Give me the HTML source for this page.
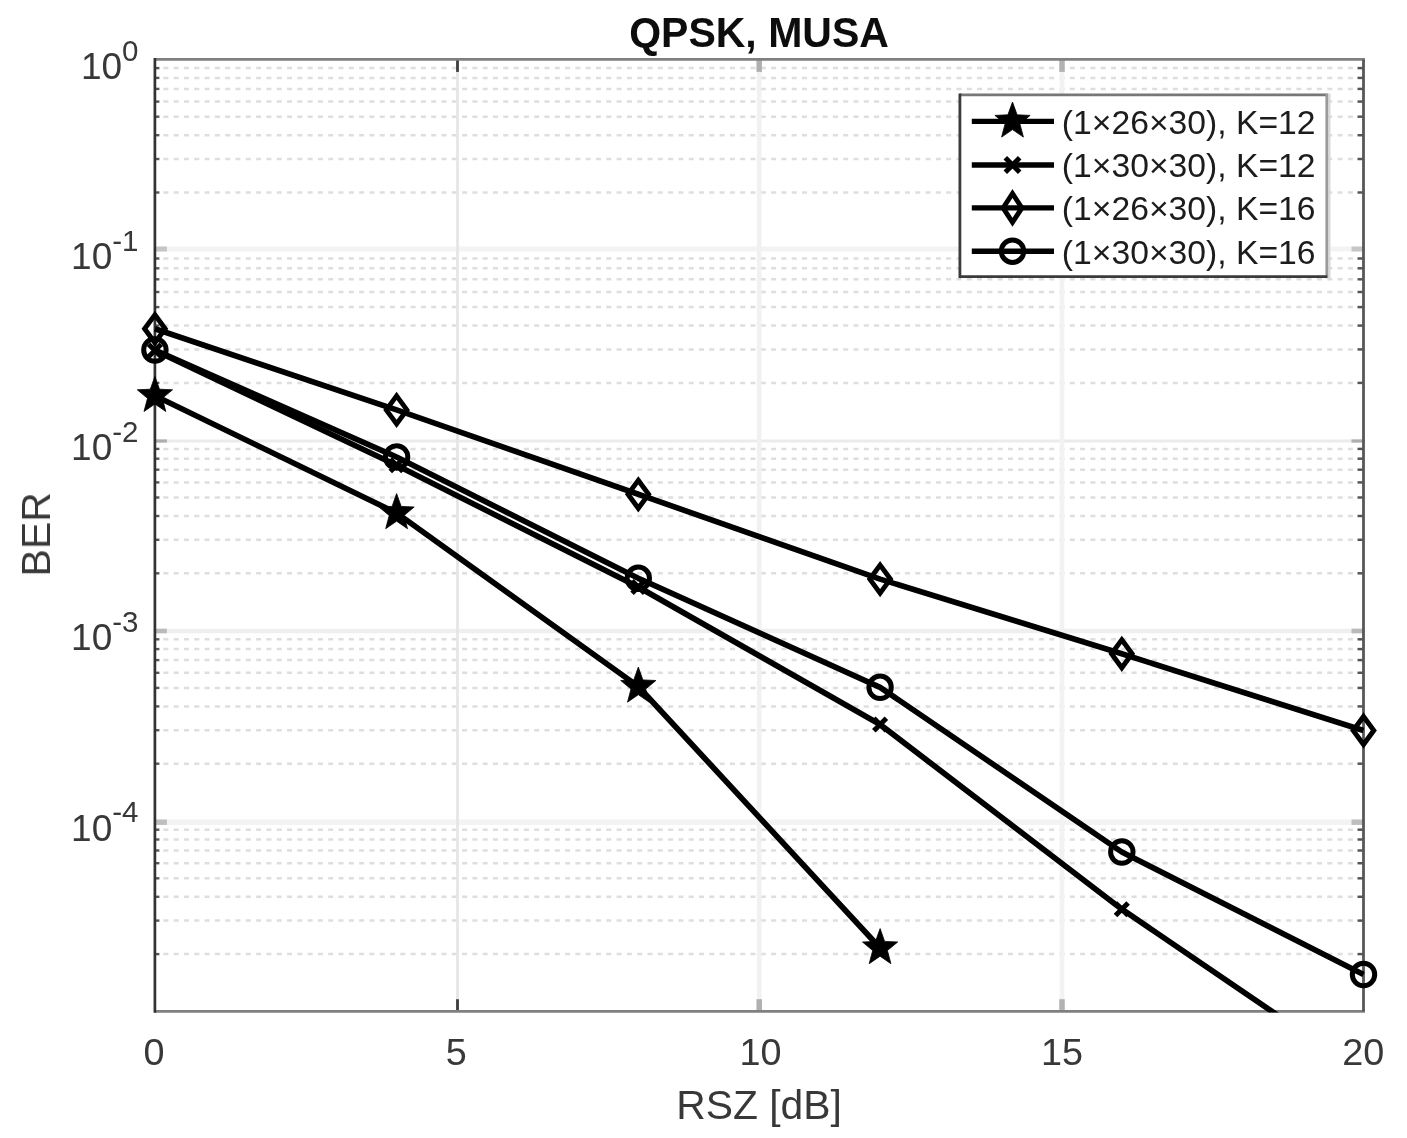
<!DOCTYPE html>
<html lang="en"><head><meta charset="utf-8"><title>QPSK, MUSA</title>
<style>html,body{margin:0;padding:0;background:#fff;}body{width:1407px;height:1138px;overflow:hidden;}svg{display:block;}text{font-family:"Liberation Sans",Arial,sans-serif;fill:#383838;}</style>
</head><body>
<svg width="1407" height="1138" viewBox="0 0 1407 1138">
<rect width="1407" height="1138" fill="#fff"/>
<g id="figure" filter="url(#soft)">
<defs><filter id="soft" filterUnits="userSpaceOnUse" x="0" y="0" width="1407" height="1138"><feGaussianBlur stdDeviation="0.75"/></filter><clipPath id="ax"><rect x="124.9" y="59.4" width="1268.6" height="953.0"/></clipPath></defs>
<g id="grid-major-h">
<line x1="154.9" y1="249.0" x2="1363.5" y2="249.0" stroke="#f3f3f3" stroke-width="5.0"/>
<line x1="154.9" y1="441.0" x2="1363.5" y2="441.0" stroke="#ebebeb" stroke-width="3.2"/>
<line x1="154.9" y1="631.0" x2="1363.5" y2="631.0" stroke="#efefef" stroke-width="4.6"/>
<line x1="154.9" y1="822.2" x2="1363.5" y2="822.2" stroke="#f3f3f3" stroke-width="5.4"/>
</g>
<g id="grid-minor-h" stroke="#dedede" stroke-width="2.5" stroke-dasharray="5 5.3">
<line x1="163.4" y1="192.5" x2="1363.5" y2="192.5"/>
<line x1="163.4" y1="159.0" x2="1363.5" y2="159.0"/>
<line x1="163.4" y1="135.2" x2="1363.5" y2="135.2"/>
<line x1="163.4" y1="116.7" x2="1363.5" y2="116.7"/>
<line x1="163.4" y1="101.6" x2="1363.5" y2="101.6"/>
<line x1="163.4" y1="88.9" x2="1363.5" y2="88.9"/>
<line x1="163.4" y1="77.9" x2="1363.5" y2="77.9"/>
<line x1="163.4" y1="68.1" x2="1363.5" y2="68.1"/>
<line x1="163.4" y1="382.9" x2="1363.5" y2="382.9"/>
<line x1="163.4" y1="349.4" x2="1363.5" y2="349.4"/>
<line x1="163.4" y1="325.6" x2="1363.5" y2="325.6"/>
<line x1="163.4" y1="307.1" x2="1363.5" y2="307.1"/>
<line x1="163.4" y1="292.0" x2="1363.5" y2="292.0"/>
<line x1="163.4" y1="279.3" x2="1363.5" y2="279.3"/>
<line x1="163.4" y1="268.3" x2="1363.5" y2="268.3"/>
<line x1="163.4" y1="258.5" x2="1363.5" y2="258.5"/>
<line x1="163.4" y1="573.3" x2="1363.5" y2="573.3"/>
<line x1="163.4" y1="539.8" x2="1363.5" y2="539.8"/>
<line x1="163.4" y1="516.0" x2="1363.5" y2="516.0"/>
<line x1="163.4" y1="497.5" x2="1363.5" y2="497.5"/>
<line x1="163.4" y1="482.4" x2="1363.5" y2="482.4"/>
<line x1="163.4" y1="469.7" x2="1363.5" y2="469.7"/>
<line x1="163.4" y1="458.7" x2="1363.5" y2="458.7"/>
<line x1="163.4" y1="448.9" x2="1363.5" y2="448.9"/>
<line x1="163.4" y1="763.7" x2="1363.5" y2="763.7"/>
<line x1="163.4" y1="730.2" x2="1363.5" y2="730.2"/>
<line x1="163.4" y1="706.4" x2="1363.5" y2="706.4"/>
<line x1="163.4" y1="687.9" x2="1363.5" y2="687.9"/>
<line x1="163.4" y1="672.8" x2="1363.5" y2="672.8"/>
<line x1="163.4" y1="660.1" x2="1363.5" y2="660.1"/>
<line x1="163.4" y1="649.1" x2="1363.5" y2="649.1"/>
<line x1="163.4" y1="639.3" x2="1363.5" y2="639.3"/>
<line x1="163.4" y1="954.1" x2="1363.5" y2="954.1"/>
<line x1="163.4" y1="920.6" x2="1363.5" y2="920.6"/>
<line x1="163.4" y1="896.8" x2="1363.5" y2="896.8"/>
<line x1="163.4" y1="878.3" x2="1363.5" y2="878.3"/>
<line x1="163.4" y1="863.2" x2="1363.5" y2="863.2"/>
<line x1="163.4" y1="850.5" x2="1363.5" y2="850.5"/>
<line x1="163.4" y1="839.5" x2="1363.5" y2="839.5"/>
<line x1="163.4" y1="829.7" x2="1363.5" y2="829.7"/>
</g>
<g id="grid-major-v">
<line x1="457.5" y1="59.4" x2="457.5" y2="1011.4" stroke="#e6e6e6" stroke-width="2.8"/>
<line x1="759.2" y1="59.4" x2="759.2" y2="1011.4" stroke="#f1f1f1" stroke-width="4.6"/>
<line x1="1062.0" y1="59.4" x2="1062.0" y2="1011.4" stroke="#f2f2f2" stroke-width="4.6"/>
</g>
<g id="ticks-minor" stroke="#555" stroke-width="2.4">
<line x1="154.9" y1="192.5" x2="159.4" y2="192.5"/>
<line x1="1357.5" y1="192.5" x2="1363.5" y2="192.5"/>
<line x1="154.9" y1="159.0" x2="159.4" y2="159.0"/>
<line x1="1357.5" y1="159.0" x2="1363.5" y2="159.0"/>
<line x1="154.9" y1="135.2" x2="159.4" y2="135.2"/>
<line x1="1357.5" y1="135.2" x2="1363.5" y2="135.2"/>
<line x1="154.9" y1="116.7" x2="159.4" y2="116.7"/>
<line x1="1357.5" y1="116.7" x2="1363.5" y2="116.7"/>
<line x1="154.9" y1="101.6" x2="159.4" y2="101.6"/>
<line x1="1357.5" y1="101.6" x2="1363.5" y2="101.6"/>
<line x1="154.9" y1="88.9" x2="159.4" y2="88.9"/>
<line x1="1357.5" y1="88.9" x2="1363.5" y2="88.9"/>
<line x1="154.9" y1="77.9" x2="159.4" y2="77.9"/>
<line x1="1357.5" y1="77.9" x2="1363.5" y2="77.9"/>
<line x1="154.9" y1="68.1" x2="159.4" y2="68.1"/>
<line x1="1357.5" y1="68.1" x2="1363.5" y2="68.1"/>
<line x1="154.9" y1="382.9" x2="159.4" y2="382.9"/>
<line x1="1357.5" y1="382.9" x2="1363.5" y2="382.9"/>
<line x1="154.9" y1="349.4" x2="159.4" y2="349.4"/>
<line x1="1357.5" y1="349.4" x2="1363.5" y2="349.4"/>
<line x1="154.9" y1="325.6" x2="159.4" y2="325.6"/>
<line x1="1357.5" y1="325.6" x2="1363.5" y2="325.6"/>
<line x1="154.9" y1="307.1" x2="159.4" y2="307.1"/>
<line x1="1357.5" y1="307.1" x2="1363.5" y2="307.1"/>
<line x1="154.9" y1="292.0" x2="159.4" y2="292.0"/>
<line x1="1357.5" y1="292.0" x2="1363.5" y2="292.0"/>
<line x1="154.9" y1="279.3" x2="159.4" y2="279.3"/>
<line x1="1357.5" y1="279.3" x2="1363.5" y2="279.3"/>
<line x1="154.9" y1="268.3" x2="159.4" y2="268.3"/>
<line x1="1357.5" y1="268.3" x2="1363.5" y2="268.3"/>
<line x1="154.9" y1="258.5" x2="159.4" y2="258.5"/>
<line x1="1357.5" y1="258.5" x2="1363.5" y2="258.5"/>
<line x1="154.9" y1="573.3" x2="159.4" y2="573.3"/>
<line x1="1357.5" y1="573.3" x2="1363.5" y2="573.3"/>
<line x1="154.9" y1="539.8" x2="159.4" y2="539.8"/>
<line x1="1357.5" y1="539.8" x2="1363.5" y2="539.8"/>
<line x1="154.9" y1="516.0" x2="159.4" y2="516.0"/>
<line x1="1357.5" y1="516.0" x2="1363.5" y2="516.0"/>
<line x1="154.9" y1="497.5" x2="159.4" y2="497.5"/>
<line x1="1357.5" y1="497.5" x2="1363.5" y2="497.5"/>
<line x1="154.9" y1="482.4" x2="159.4" y2="482.4"/>
<line x1="1357.5" y1="482.4" x2="1363.5" y2="482.4"/>
<line x1="154.9" y1="469.7" x2="159.4" y2="469.7"/>
<line x1="1357.5" y1="469.7" x2="1363.5" y2="469.7"/>
<line x1="154.9" y1="458.7" x2="159.4" y2="458.7"/>
<line x1="1357.5" y1="458.7" x2="1363.5" y2="458.7"/>
<line x1="154.9" y1="448.9" x2="159.4" y2="448.9"/>
<line x1="1357.5" y1="448.9" x2="1363.5" y2="448.9"/>
<line x1="154.9" y1="763.7" x2="159.4" y2="763.7"/>
<line x1="1357.5" y1="763.7" x2="1363.5" y2="763.7"/>
<line x1="154.9" y1="730.2" x2="159.4" y2="730.2"/>
<line x1="1357.5" y1="730.2" x2="1363.5" y2="730.2"/>
<line x1="154.9" y1="706.4" x2="159.4" y2="706.4"/>
<line x1="1357.5" y1="706.4" x2="1363.5" y2="706.4"/>
<line x1="154.9" y1="687.9" x2="159.4" y2="687.9"/>
<line x1="1357.5" y1="687.9" x2="1363.5" y2="687.9"/>
<line x1="154.9" y1="672.8" x2="159.4" y2="672.8"/>
<line x1="1357.5" y1="672.8" x2="1363.5" y2="672.8"/>
<line x1="154.9" y1="660.1" x2="159.4" y2="660.1"/>
<line x1="1357.5" y1="660.1" x2="1363.5" y2="660.1"/>
<line x1="154.9" y1="649.1" x2="159.4" y2="649.1"/>
<line x1="1357.5" y1="649.1" x2="1363.5" y2="649.1"/>
<line x1="154.9" y1="639.3" x2="159.4" y2="639.3"/>
<line x1="1357.5" y1="639.3" x2="1363.5" y2="639.3"/>
<line x1="154.9" y1="954.1" x2="159.4" y2="954.1"/>
<line x1="1357.5" y1="954.1" x2="1363.5" y2="954.1"/>
<line x1="154.9" y1="920.6" x2="159.4" y2="920.6"/>
<line x1="1357.5" y1="920.6" x2="1363.5" y2="920.6"/>
<line x1="154.9" y1="896.8" x2="159.4" y2="896.8"/>
<line x1="1357.5" y1="896.8" x2="1363.5" y2="896.8"/>
<line x1="154.9" y1="878.3" x2="159.4" y2="878.3"/>
<line x1="1357.5" y1="878.3" x2="1363.5" y2="878.3"/>
<line x1="154.9" y1="863.2" x2="159.4" y2="863.2"/>
<line x1="1357.5" y1="863.2" x2="1363.5" y2="863.2"/>
<line x1="154.9" y1="850.5" x2="159.4" y2="850.5"/>
<line x1="1357.5" y1="850.5" x2="1363.5" y2="850.5"/>
<line x1="154.9" y1="839.5" x2="159.4" y2="839.5"/>
<line x1="1357.5" y1="839.5" x2="1363.5" y2="839.5"/>
<line x1="154.9" y1="829.7" x2="159.4" y2="829.7"/>
<line x1="1357.5" y1="829.7" x2="1363.5" y2="829.7"/>
</g>
<g id="ticks-major-y">
<line x1="154.9" y1="249.0" x2="166.9" y2="249.0" stroke="#c6c6c6" stroke-width="5.0"/>
<line x1="1351.5" y1="249.0" x2="1363.5" y2="249.0" stroke="#c6c6c6" stroke-width="5.0"/>
<line x1="154.9" y1="441.0" x2="166.9" y2="441.0" stroke="#adadad" stroke-width="3.2"/>
<line x1="1351.5" y1="441.0" x2="1363.5" y2="441.0" stroke="#adadad" stroke-width="3.2"/>
<line x1="154.9" y1="631.0" x2="166.9" y2="631.0" stroke="#bababa" stroke-width="4.6"/>
<line x1="1351.5" y1="631.0" x2="1363.5" y2="631.0" stroke="#bababa" stroke-width="4.6"/>
<line x1="154.9" y1="822.2" x2="166.9" y2="822.2" stroke="#bebebe" stroke-width="5.4"/>
<line x1="1351.5" y1="822.2" x2="1363.5" y2="822.2" stroke="#bebebe" stroke-width="5.4"/>
</g>
<g id="ticks-major-x">
<line x1="457.5" y1="59.4" x2="457.5" y2="71.9" stroke="#3c3c3c" stroke-width="2.8"/>
<line x1="457.5" y1="999.2" x2="457.5" y2="1011.4" stroke="#3c3c3c" stroke-width="2.8"/>
<line x1="759.2" y1="59.4" x2="759.2" y2="71.9" stroke="#b0b0b0" stroke-width="5.5"/>
<line x1="759.2" y1="999.2" x2="759.2" y2="1011.4" stroke="#b0b0b0" stroke-width="5.5"/>
<line x1="1062.0" y1="59.4" x2="1062.0" y2="71.9" stroke="#b2b2b2" stroke-width="5.5"/>
<line x1="1062.0" y1="999.2" x2="1062.0" y2="1011.4" stroke="#b2b2b2" stroke-width="5.5"/>
</g>
<g id="box" fill="none">
<line x1="154.9" y1="59.4" x2="1364.9" y2="59.4" stroke="#808080" stroke-width="2.8"/>
<line x1="154.9" y1="1011.4" x2="1364.9" y2="1011.4" stroke="#808080" stroke-width="2.8"/>
<line x1="1363.5" y1="59.4" x2="1363.5" y2="1011.4" stroke="#585858" stroke-width="2.8"/>
<line x1="154.9" y1="58.0" x2="154.9" y2="1012.8" stroke="#333" stroke-width="2.7"/>
</g>
<g id="series" clip-path="url(#ax)">
<polyline points="154.9,395.8 396.6,513.0 638.3,686.5 880.1,948.0" fill="none" stroke="#000" stroke-width="5.7" stroke-linejoin="round"/>
<polyline points="154.9,350.5 396.6,465.3 638.3,587.0 880.1,724.5 1121.8,909.2 1363.5,1073.7" fill="none" stroke="#000" stroke-width="5.7" stroke-linejoin="round"/>
<polyline points="154.9,328.8 396.6,409.9 638.3,494.3 880.1,579.1 1121.8,653.8 1363.5,730.5" fill="none" stroke="#000" stroke-width="5.7" stroke-linejoin="round"/>
<polyline points="154.9,350.0 396.6,457.0 638.3,578.3 880.1,687.3 1121.8,852.0 1363.5,974.5" fill="none" stroke="#000" stroke-width="5.7" stroke-linejoin="round"/>
</g>
<g id="markers">
<polygon points="154.9,376.4 159.5,389.2 172.5,389.8 162.3,398.3 165.8,411.5 154.9,404.0 144.0,411.5 147.5,398.3 137.3,389.8 150.3,389.2" fill="#000" stroke="#000" stroke-width="0.8" stroke-linejoin="miter"/>
<polygon points="396.6,493.6 401.2,506.4 414.2,507.0 404.0,515.5 407.5,528.7 396.6,521.2 385.7,528.7 389.2,515.5 379.0,507.0 392.1,506.4" fill="#000" stroke="#000" stroke-width="0.8" stroke-linejoin="miter"/>
<polygon points="638.3,667.1 642.9,679.9 655.9,680.5 645.7,689.0 649.2,702.2 638.3,694.7 627.5,702.2 631.0,689.0 620.7,680.5 633.8,679.9" fill="#000" stroke="#000" stroke-width="0.8" stroke-linejoin="miter"/>
<polygon points="880.1,928.6 884.6,941.4 897.7,942.0 887.4,950.5 890.9,963.7 880.1,956.2 869.2,963.7 872.7,950.5 862.5,942.0 875.5,941.4" fill="#000" stroke="#000" stroke-width="0.8" stroke-linejoin="miter"/>
<path d="M148.6 344.2L161.2 356.8M148.6 356.8L161.2 344.2" stroke="#000" stroke-width="5" fill="none" stroke-linecap="butt"/>
<path d="M390.3 459.0L402.9 471.6M390.3 471.6L402.9 459.0" stroke="#000" stroke-width="5" fill="none" stroke-linecap="butt"/>
<path d="M632.0 580.7L644.6 593.3M632.0 593.3L644.6 580.7" stroke="#000" stroke-width="5" fill="none" stroke-linecap="butt"/>
<path d="M873.8 718.2L886.4 730.8M873.8 730.8L886.4 718.2" stroke="#000" stroke-width="5" fill="none" stroke-linecap="butt"/>
<path d="M1115.5 902.9L1128.1 915.5M1115.5 915.5L1128.1 902.9" stroke="#000" stroke-width="5" fill="none" stroke-linecap="butt"/>
<polygon points="154.9,314.8 165.2,328.8 154.9,342.8 144.6,328.8" fill="none" stroke="#000" stroke-width="4.9" stroke-linejoin="miter"/>
<polygon points="396.6,395.9 406.9,409.9 396.6,423.9 386.3,409.9" fill="none" stroke="#000" stroke-width="4.9" stroke-linejoin="miter"/>
<polygon points="638.3,480.3 648.6,494.3 638.3,508.3 628.0,494.3" fill="none" stroke="#000" stroke-width="4.9" stroke-linejoin="miter"/>
<polygon points="880.1,565.1 890.4,579.1 880.1,593.1 869.8,579.1" fill="none" stroke="#000" stroke-width="4.9" stroke-linejoin="miter"/>
<polygon points="1121.8,639.8 1132.1,653.8 1121.8,667.8 1111.5,653.8" fill="none" stroke="#000" stroke-width="4.9" stroke-linejoin="miter"/>
<polygon points="1363.5,716.5 1373.8,730.5 1363.5,744.5 1353.2,730.5" fill="none" stroke="#000" stroke-width="4.9" stroke-linejoin="miter"/>
<circle cx="154.9" cy="350.0" r="11.2" fill="none" stroke="#000" stroke-width="5"/>
<circle cx="396.6" cy="457.0" r="11.2" fill="none" stroke="#000" stroke-width="5"/>
<circle cx="638.3" cy="578.3" r="11.2" fill="none" stroke="#000" stroke-width="5"/>
<circle cx="880.1" cy="687.3" r="11.2" fill="none" stroke="#000" stroke-width="5"/>
<circle cx="1121.8" cy="852.0" r="11.2" fill="none" stroke="#000" stroke-width="5"/>
<circle cx="1363.5" cy="974.5" r="11.2" fill="none" stroke="#000" stroke-width="5"/>
</g>
<g id="legend">
<rect x="959.9" y="94.9" width="367.3" height="181.8" fill="#fff"/>
<line x1="1329.4" y1="93.5" x2="1329.4" y2="278.1" stroke="#d8d8d8" stroke-width="2.2"/>
<line x1="959.9" y1="94.9" x2="1327.2" y2="94.9" stroke="#777" stroke-width="2.8"/>
<line x1="1326.8" y1="93.5" x2="1326.8" y2="278.1" stroke="#9a9a9a" stroke-width="2.8"/>
<line x1="959.9" y1="93.5" x2="959.9" y2="278.1" stroke="#3a3a3a" stroke-width="2.8"/>
<line x1="959.9" y1="276.7" x2="1327.2" y2="276.7" stroke="#3a3a3a" stroke-width="2.8"/>
<line x1="971.8" y1="121.4" x2="1054" y2="121.4" stroke="#000" stroke-width="5.4"/>
<polygon points="1012.5,102.0 1017.1,114.8 1030.1,115.4 1019.9,123.9 1023.4,137.1 1012.5,129.6 1001.6,137.1 1005.1,123.9 994.9,115.4 1007.9,114.8" fill="#000" stroke="#000" stroke-width="0.8" stroke-linejoin="miter"/>
<text x="1061.8" y="133.7" font-size="33.7" style="fill:#1c1c1c">(1×26×30), K=12</text>
<line x1="971.8" y1="165.0" x2="1054" y2="165.0" stroke="#000" stroke-width="5.4"/>
<path d="M1005.3 157.8L1019.7 172.2M1005.3 172.2L1019.7 157.8" stroke="#000" stroke-width="5" fill="none" stroke-linecap="butt"/>
<text x="1061.8" y="177.3" font-size="33.7" style="fill:#1c1c1c">(1×30×30), K=12</text>
<line x1="971.8" y1="207.9" x2="1054" y2="207.9" stroke="#000" stroke-width="5.4"/>
<polygon points="1012.5,193.5 1021.9,207.9 1012.5,222.3 1003.1,207.9" fill="none" stroke="#000" stroke-width="4.9" stroke-linejoin="miter"/>
<text x="1061.8" y="220.2" font-size="33.7" style="fill:#1c1c1c">(1×26×30), K=16</text>
<line x1="971.8" y1="251.2" x2="1054" y2="251.2" stroke="#000" stroke-width="5.4"/>
<circle cx="1012.5" cy="251.2" r="11.2" fill="none" stroke="#000" stroke-width="5"/>
<text x="1061.8" y="263.5" font-size="33.7" style="fill:#1c1c1c">(1×30×30), K=16</text>
</g>
<text transform="translate(759,46.5) scale(1,1.035)" font-size="41" font-weight="bold" text-anchor="middle" style="fill:#0a0a0a">QPSK, MUSA</text>
<text x="759" y="1118.9" font-size="40.8" text-anchor="middle">RSZ [dB]</text>
<text transform="translate(50,534.3) rotate(-90)" font-size="41" text-anchor="middle">BER</text>
<text x="153.9" y="1064.8" font-size="37.8" text-anchor="middle">0</text>
<text x="456.3" y="1064.8" font-size="37.8" text-anchor="middle">5</text>
<text x="760.4" y="1064.8" font-size="37.8" text-anchor="middle">10</text>
<text x="1062.1" y="1064.8" font-size="37.8" text-anchor="middle">15</text>
<text x="1363.2" y="1064.8" font-size="37.8" text-anchor="middle">20</text>
<text x="138.5" y="79.0" font-size="37" text-anchor="end">10<tspan font-size="29.5" dy="-18.3">0</tspan></text>
<text x="138.5" y="269.4" font-size="37" text-anchor="end">10<tspan font-size="29.5" dy="-18.3">-1</tspan></text>
<text x="138.5" y="459.8" font-size="37" text-anchor="end">10<tspan font-size="29.5" dy="-18.3">-2</tspan></text>
<text x="138.5" y="650.2" font-size="37" text-anchor="end">10<tspan font-size="29.5" dy="-18.3">-3</tspan></text>
<text x="138.5" y="840.6" font-size="37" text-anchor="end">10<tspan font-size="29.5" dy="-18.3">-4</tspan></text>
</g>
</svg></body></html>
